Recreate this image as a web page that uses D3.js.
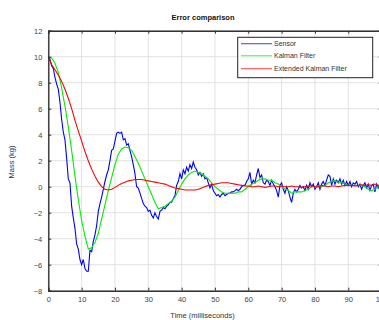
<!DOCTYPE html>
<html><head><meta charset="utf-8">
<script src="https://cdn.jsdelivr.net/npm/d3@7"></script>
<style>body{margin:0;background:#fff}svg{display:block}text{font-family:"Liberation Sans",Arial,sans-serif}</style>
</head><body>
<svg id="c" width="379" height="320"></svg>
<script>
const title = "Error comparison";
const xLabel = "Time (milliseconds)";
const yLabel = "Mass (kg)";
const xTicks = [0,10,20,30,40,50,60,70,80,90,100];
const yTicks = [-8,-6,-4,-2,0,2,4,6,8,10,12];
const seriesNames = ["Sensor","Kalman Filter","Extended Kalman Filter"];
const seriesColors = ["#0000ff","#00ee00","#ff0000"];

// Sensor sampled every 0.5 ms
const sensorTime = d3.range(0, 100.25, 0.5);
const sensor = [
10,9.8,9.3,9.1,8.4,7.9,7.5,6.5,5.2,4.2,3.6,2.2,0.6,0.3,-1.5,-2.4,-3.2,-4.4,-4.8,-5.6,
-6.0,-5.6,-6.3,-6.5,-6.5,-4.9,-5.0,-4.2,-3.7,-3.0,-1.9,-1.3,-0.8,-0.2,0.4,0.9,1.3,2.0,2.8,2.9,
3.5,4.1,4.2,4.1,4.2,3.6,3.7,3.2,3.3,2.8,2.3,1.7,1.0,0.0,-0.1,-0.5,-0.9,-1.3,-1.5,-1.6,
-1.9,-1.8,-2.2,-2.4,-2.0,-2.3,-2.5,-1.9,-1.8,-1.6,-1.7,-1.5,-1.4,-1.2,-1.2,-0.9,-0.7,0.1,0.4,1.0,
0.6,1.3,1.0,1.5,1.2,1.7,1.4,1.9,1.5,1.3,0.9,1.1,0.8,1.0,0.6,0.7,0.3,-0.1,0.2,-0.3,
-0.5,-0.7,-0.6,-0.8,-0.6,-0.5,-0.7,-0.6,-0.5,-0.5,-0.4,-0.4,-0.3,-0.2,-0.3,-0.2,0.0,0.1,0.1,0.4,
0.6,1.1,0.2,0.5,0.3,0.9,1.4,0.7,0.9,0.3,0.2,0.5,0.4,0.1,0.5,0.2,0.0,-0.3,-0.8,0.1,
0.3,-0.2,-0.5,0.0,-0.3,-0.8,-1.2,-0.5,-0.2,-0.4,-0.2,0.1,-0.1,0.0,-0.3,0.1,-0.2,0.3,0.0,0.2,
-0.2,0.0,0.3,-0.2,0.2,0.4,0.1,0.5,0.9,0.8,0.1,0.6,0.2,0.5,0.3,0.6,0.2,0.5,0.1,0.4,
0.1,0.4,0.0,0.3,0.2,0.4,0.0,0.2,-0.2,0.1,0.3,-0.1,0.2,-0.3,0.1,0.2,-0.4,0.2,-0.1,0.3,
0.0];

// Filters sampled every 1 ms
const filterTime = d3.range(0, 100.5, 1);
const kalman = [
10,9.9,9.5,8.8,7.6,6.2,4.6,2.8,0.8,-1.0,-2.6,-3.8,-4.8,-4.7,-4.3,-3.6,-2.5,-1.4,-0.3,0.7,
1.7,2.5,2.9,3.05,3.0,2.8,2.3,1.8,1.2,0.6,0.0,-0.6,-1.2,-1.7,-1.6,-1.5,-1.3,-1.1,-0.8,-0.3,
0.2,0.6,0.9,1.1,1.2,1.1,1.0,0.8,0.6,0.3,0.0,-0.2,-0.4,-0.5,-0.5,-0.5,-0.5,-0.4,-0.4,-0.2,
0.0,0.2,0.3,0.5,0.6,0.6,0.5,0.5,0.3,0.2,0.0,-0.2,-0.3,-0.5,-0.4,-0.4,-0.4,-0.3,-0.2,0.0,
0.0,0.0,0.0,0.1,0.3,0.4,0.5,0.3,0.3,0.2,0.1,0.1,0.1,0.1,0.1,0.0,-0.2,-0.3,-0.2,0.0,
0.1];
const ekf = [
10,9.4,9.0,8.6,8.1,7.5,6.8,6.0,5.1,4.3,3.5,2.7,2.0,1.35,0.8,0.35,0.0,-0.2,-0.25,-0.2,
-0.05,0.1,0.25,0.35,0.45,0.5,0.55,0.55,0.55,0.5,0.45,0.4,0.35,0.3,0.25,0.2,0.1,0.0,-0.1,-0.15,
-0.2,-0.25,-0.25,-0.25,-0.25,-0.2,-0.1,0.0,0.1,0.15,0.2,0.25,0.3,0.3,0.3,0.25,0.2,0.15,0.1,0.05,
0.05,0.0,0.0,0.05,0.0,-0.05,0.0,0.05,0.05,0.0,0.05,0.0,0.0,0.05,0.0,0.0,-0.05,0.0,0.05,0.05,
0.0,0.0,0.1,0.05,0.0,0.05,0.05,0.0,0.05,0.1,0.1,0.1,0.05,0.1,0.15,0.1,0.15,0.1,0.2,0.1,
0.1];

const svg = d3.select("#c");
const X0 = 48.3, X1 = 381.6, Y0 = 290.7, Y1 = 30.7;
const x = d3.scaleLinear().domain([0,100]).range([X0, X1]);
const y = d3.scaleLinear().domain([-8,12]).range([Y0, Y1]);

svg.append("rect").attr("width",379).attr("height",320).attr("fill","#fff");

// grid
const g = svg.append("g");
g.selectAll(".gx").data(xTicks).join("line")
  .attr("x1",d=>x(d)).attr("x2",d=>x(d)).attr("y1",Y1).attr("y2",Y0)
  .attr("stroke","#e2e2e2").attr("stroke-width",1);
g.selectAll(".gy").data(yTicks).join("line")
  .attr("x1",X0).attr("x2",X1).attr("y1",d=>y(d)).attr("y2",d=>y(d))
  .attr("stroke","#e2e2e2").attr("stroke-width",1);

// lines
const series = [
  {name:seriesNames[0], t:sensorTime, v:sensor, c:seriesColors[0]},
  {name:seriesNames[1], t:filterTime, v:kalman, c:seriesColors[1]},
  {name:seriesNames[2], t:filterTime, v:ekf, c:seriesColors[2]}
];
const line = d3.line().x(d=>x(d[0])).y(d=>y(d[1]));
svg.append("defs").append("clipPath").attr("id","clip").append("rect")
  .attr("x",X0).attr("y",Y1).attr("width",X1-X0).attr("height",Y0-Y1);
const lg = svg.append("g").attr("clip-path","url(#clip)");
series.forEach(s=>{
  lg.append("path").datum(s.t.map((t,i)=>[t,s.v[i]]))
    .attr("d",line).attr("fill","none").attr("stroke",s.c).attr("stroke-width",1.1);
});

// axes
const axB = d3.axisBottom(x).tickValues(xTicks).tickSize(-3).tickPadding(6).tickFormat(d3.format("d"));
const axT = d3.axisTop(x).tickValues(xTicks).tickSize(-3).tickFormat("");
const axL = d3.axisLeft(y).tickValues(yTicks).tickSize(-3).tickPadding(6).tickFormat(d3.format("d"));
const axR = d3.axisRight(y).tickValues(yTicks).tickSize(-3).tickFormat("");
function style(sel){
  sel.selectAll("path").attr("stroke","#333").attr("stroke-width",1.4);
  sel.selectAll("line").attr("stroke","#333");
  sel.selectAll("text").attr("fill","#444").style("font-size","7.5px").style("font-family","Liberation Sans, Arial, sans-serif");
}
svg.append("g").attr("transform",`translate(0,${Y0})`).call(axB).call(style);
svg.append("g").attr("transform",`translate(0,${Y1})`).call(axT).call(style);
svg.append("g").attr("transform",`translate(${X0},0)`).call(axL).call(style);
svg.append("g").attr("transform",`translate(${X1},0)`).call(axR).call(style);
svg.selectAll(".domain").attr("stroke","#333");

// title / labels
svg.append("text").attr("x",203).attr("y",20).attr("text-anchor","middle")
  .style("font-size","7.5px").style("font-weight","bold").attr("fill","#111").text(title);
svg.append("text").attr("x",202.5).attr("y",318).attr("text-anchor","middle")
  .style("font-size","7.5px").attr("fill","#333").text(xLabel);
svg.append("text").attr("transform","translate(14,162) rotate(-90)").attr("text-anchor","middle")
  .style("font-size","7.5px").attr("fill","#333").text(yLabel);

// legend
const leg = svg.append("g");
leg.append("rect").attr("x",237.7).attr("y",37.3).attr("width",135).attr("height",40.4)
  .attr("fill","#fff").attr("stroke","#222").attr("stroke-width",1);
const legY = [43.7,55.8,68.7];
series.forEach((s,i)=>{
  leg.append("line").attr("x1",241).attr("x2",272).attr("y1",legY[i]).attr("y2",legY[i])
    .attr("stroke",s.c).attr("stroke-width",1.1).attr("opacity",0.7);
  leg.append("text").attr("x",274).attr("y",legY[i]+2.5).style("font-size","7px")
    .attr("fill","#333").text(s.name);
});
</script>
</body></html>
